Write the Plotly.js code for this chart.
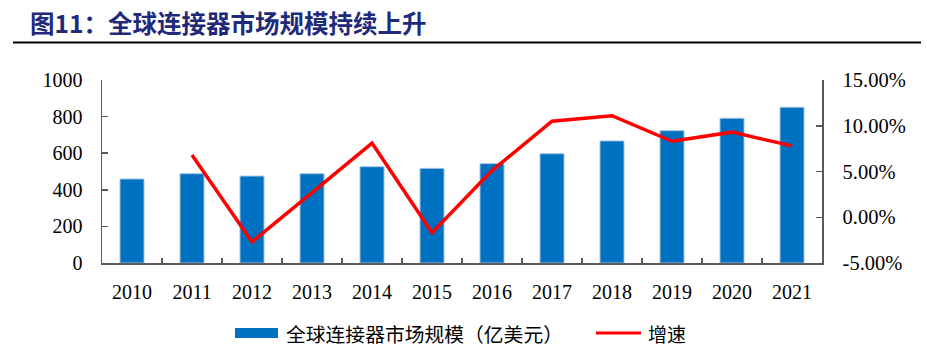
<!DOCTYPE html>
<html>
<head>
<meta charset="utf-8">
<script src="https://cdn.plot.ly/plotly-3.0.1.min.js"></script>
<style>html,body{margin:0;padding:0;background:#fff;}#chart{width:927px;height:356px;}</style>
</head>
<body>
<div id="chart"></div>
<script>
const years = ['2010','2011','2012','2013','2014','2015','2016','2017','2018','2019','2020','2021'];
const marketSize = [459, 488, 475, 488, 526, 517, 543, 597, 667, 723, 791, 851];
const growthYears = ['2011','2012','2013','2014','2015','2016','2017','2018','2019','2020','2021'];
const growthRate = [6.8, -2.7, 2.7, 8.1, -1.7, 5.1, 10.5, 11.1, 8.3, 9.3, 7.8];
const leftTicks = [0, 200, 400, 600, 800, 1000];
const rightTicks = [-5, 0, 5, 10, 15];
const rightTickText = ['-5.00%', '0.00%', '5.00%', '10.00%', '15.00%'];
const titleText = '图11：全球连接器市场规模持续上升';
const barName = '全球连接器市场规模（亿美元）';
const lineName = '增速';

const serif = 'Liberation Serif, Times New Roman, serif';
const cjk = 'Noto Sans CJK SC, sans-serif';

const traces = [
  {
    type: 'bar', x: years, y: marketSize, name: barName,
    marker: {color: '#0070C0', line: {color: '#9DC3E6', width: 1}},
    yaxis: 'y', hoverinfo: 'skip'
  },
  {
    type: 'scatter', mode: 'lines', x: growthYears, y: growthRate, name: lineName,
    line: {color: '#FF0000', width: 3.5}, yaxis: 'y2', hoverinfo: 'skip'
  }
];

const layout = {
  width: 927, height: 356,
  margin: {l: 102, r: 105, t: 80, b: 93},
  paper_bgcolor: '#ffffff', plot_bgcolor: '#ffffff',
  showlegend: false,
  bargap: 0.6,
  xaxis: {
    type: 'category', showgrid: false, zeroline: false,
    showline: true, linecolor: '#595959', linewidth: 1.5,
    ticks: 'inside', tickson: 'boundaries', ticklen: 5, tickcolor: '#595959', tickwidth: 1.5,
    tickfont: {family: serif, size: 20, color: '#000'},
    ticklabelstandoff: 10
  },
  yaxis: {
    range: [0, 1000], tickvals: leftTicks, showgrid: false, zeroline: false,
    showline: true, linecolor: '#595959', linewidth: 1.5,
    ticks: 'inside', ticklen: 6, tickcolor: '#595959', tickwidth: 1.5,
    tickfont: {family: serif, size: 20, color: '#000'},
    ticklabelstandoff: 14
  },
  yaxis2: {
    overlaying: 'y', side: 'right', range: [-5, 15],
    tickvals: rightTicks, ticktext: rightTickText, showgrid: false, zeroline: false,
    showline: true, linecolor: '#595959', linewidth: 1.5,
    ticks: 'inside', ticklen: 6, tickcolor: '#595959', tickwidth: 1.5,
    tickfont: {family: serif, size: 20.5, color: '#000'},
    ticklabelstandoff: 15
  },
  annotations: [
    {
      xref: 'paper', yref: 'paper', x: (28 - 102) / 720, y: 1 + (80 - 23) / 183,
      xanchor: 'left', yanchor: 'middle', showarrow: false,
      text: '<b>' + titleText + '</b>',
      font: {family: cjk, size: 24.5, color: '#1F2A7A'}
    },
    {
      xref: 'paper', yref: 'paper', x: (284 - 102) / 720, y: -(333 - 263) / 183,
      xanchor: 'left', yanchor: 'middle', showarrow: false,
      text: barName, font: {family: cjk, size: 19.8, color: '#000'}
    },
    {
      xref: 'paper', yref: 'paper', x: (646 - 102) / 720, y: -(333 - 263) / 183,
      xanchor: 'left', yanchor: 'middle', showarrow: false,
      text: lineName, font: {family: cjk, size: 19, color: '#000'}
    }
  ],
  shapes: [
    {type: 'line', xref: 'paper', yref: 'paper',
     x0: (13 - 102) / 720, x1: (921 - 102) / 720, y0: 1 + (80 - 42.5) / 183, y1: 1 + (80 - 42.5) / 183,
     line: {color: '#000', width: 2}},
    {type: 'rect', xref: 'paper', yref: 'paper',
     x0: (235 - 102) / 720, x1: (278 - 102) / 720, y0: -(338 - 263) / 183, y1: -(328 - 263) / 183,
     fillcolor: '#0070C0', line: {width: 0}},
    {type: 'line', xref: 'paper', yref: 'paper',
     x0: (596 - 102) / 720, x1: (641 - 102) / 720, y0: -(333 - 263) / 183, y1: -(333 - 263) / 183,
     line: {color: '#FF0000', width: 3}}
  ]
};

Plotly.newPlot('chart', traces, layout, {displayModeBar: false, staticPlot: true});
</script>
</body>
</html>
